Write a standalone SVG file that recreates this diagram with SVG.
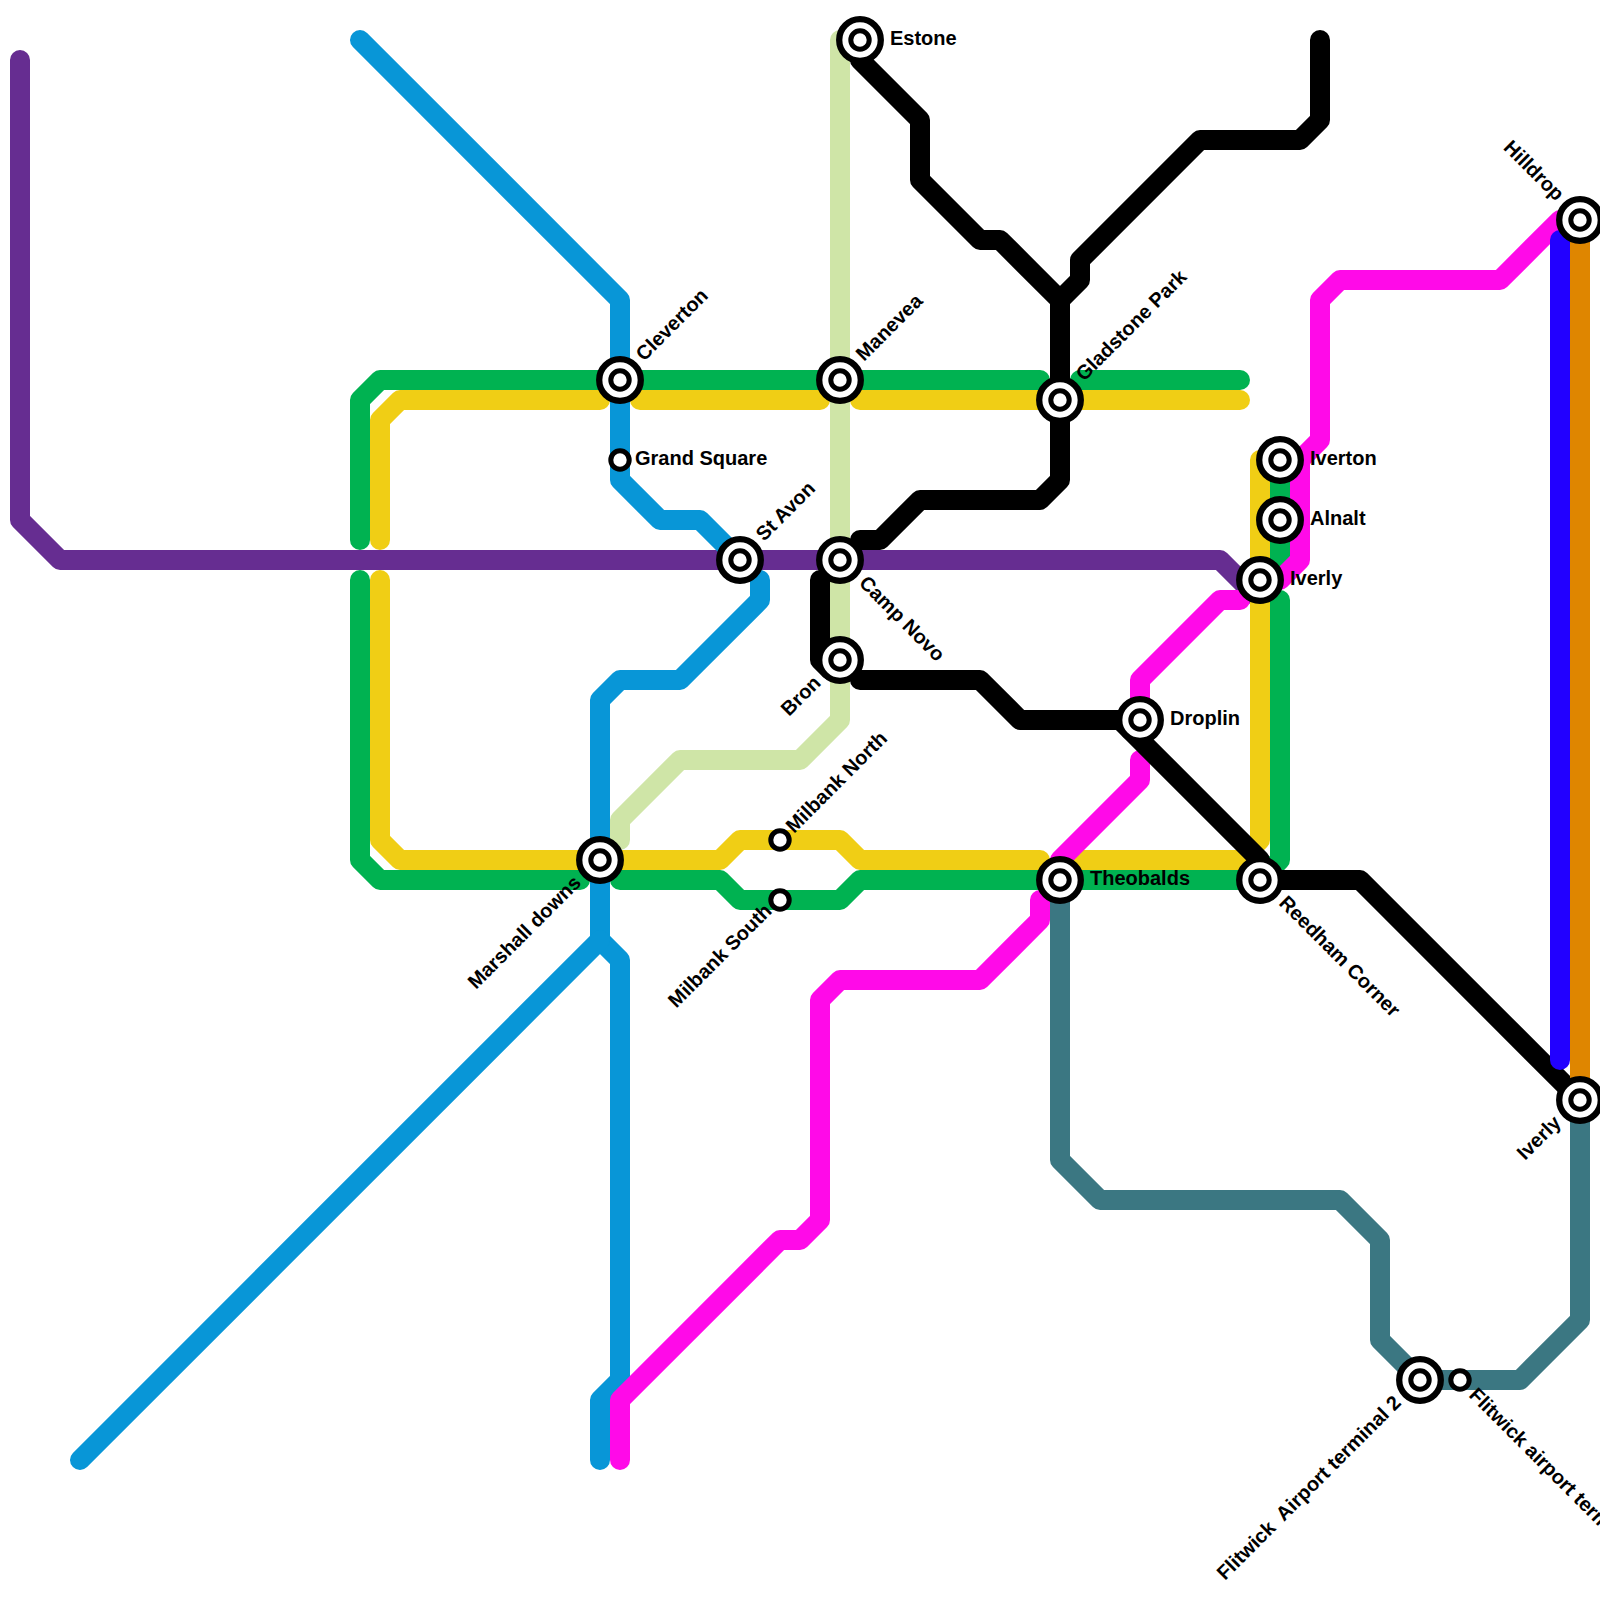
<svg xmlns="http://www.w3.org/2000/svg" width="1600" height="1600" viewBox="0 0 1600 1600">
<style>
.l{fill:none;stroke-width:20;stroke-linecap:round;stroke-linejoin:round}
.g{stroke:#00b251}.y{stroke:#f0ce15}.b{stroke:#0896d7}.p{stroke:#662d91}.c{stroke:#cfe5a7}.m{stroke:#ff0ae8}.t{stroke:#3b7782}.i{stroke:#2200ff}.o{stroke:#df8600}.k{stroke:#000}
.r{fill:#fff;stroke:#000;stroke-width:6.3}
.s{fill:#fff;stroke:#000;stroke-width:5}
text{font-family:"Liberation Sans",Arial,sans-serif;font-weight:700;font-size:20px;fill:#000;white-space:pre}
.e{text-anchor:end}
</style>
<rect width="1600" height="1600" fill="#fff"/>
<g id="connectors">
<path class="l c" d="M840 40V720L800 760H680L620 820V840"/>
<path class="l t" d="M1060 880V1160L1100 1200H1340L1380 1240V1340L1420 1380H1520L1580 1320V1100"/>
<path class="l p" d="M20 60V520L60 560H1220L1260 600"/>
<path class="l g" d="M360 540V400L380 380H1040"/>
<path class="l g" d="M1080 380H1240"/>
<path class="l g" d="M360 580V860L380 880H580"/>
<path class="l g" d="M620 880H720L740 900H840L860 880H1260L1280 860V600"/>
<path class="l g" d="M1280 460V560"/>
<path class="l y" d="M380 540V420L400 400H600"/>
<path class="l y" d="M640 400H820"/>
<path class="l y" d="M860 400H1240"/>
<path class="l y" d="M380 580V840L400 860H720L740 840H840L860 860H1040"/>
<path class="l y" d="M1080 860H1240L1260 840V460"/>
<path class="l b" d="M360 40L620 300V480L660 520H700L740 560"/>
<path class="l b" d="M760 580V600L680 680H620L600 700V940L620 960V1380L600 1400V1460"/>
<path class="l b" d="M80 1460L600 940"/>
<path class="l m" d="M1560 220L1500 280H1340L1320 300V440L1300 460V560L1280 580"/>
<path class="l m" d="M1240 600H1220L1140 680V720"/>
<path class="l m" d="M1140 760V780L1060 860"/>
<path class="l m" d="M1040 900V920L980 980H840L820 1000V1220L800 1240H780L620 1400V1460"/>
<path class="l k" d="M860 60L920 120V180L980 240H1000L1060 300V480L1040 500H920L880 540H860"/>
<path class="l k" d="M1320 40V120L1300 140H1200L1080 260V280L1060 300"/>
<path class="l k" d="M820 580V660L830 670"/>
<path class="l k" d="M860 680H980L1020 720H1120L1260 860V880H1360L1580 1100"/>
<path class="l o" d="M1580 220V1100"/>
<path class="l i" d="M1560 240V1060"/>
</g>
<g id="n-estone"><circle class="r" cx="860" cy="40" r="20.8"/><circle class="s" cx="860" cy="40" r="9.2"/><text x="890" y="45">Estone</text></g>
<g id="n-cleverton"><circle class="r" cx="620" cy="380" r="20.8"/><circle class="s" cx="620" cy="380" r="9.2"/><text transform="translate(644 362) rotate(-45)">Cleverton</text></g>
<g id="n-manevea"><circle class="r" cx="840" cy="380" r="20.8"/><circle class="s" cx="840" cy="380" r="9.2"/><text transform="translate(864 362) rotate(-45)">Manevea</text></g>
<g id="n-gladstone"><circle class="r" cx="1060" cy="400" r="20.8"/><circle class="s" cx="1060" cy="400" r="9.2"/><text transform="translate(1084 382) rotate(-45)">Gladstone Park</text></g>
<g id="n-grand-square"><circle class="s" cx="620" cy="460" r="9.2"/><text x="635" y="465">Grand Square</text></g>
<g id="n-st-avon"><circle class="r" cx="740" cy="560" r="20.8"/><circle class="s" cx="740" cy="560" r="9.2"/><text transform="translate(764 542) rotate(-45)">St Avon</text></g>
<g id="n-camp-novo"><circle class="r" cx="840" cy="560" r="20.8"/><circle class="s" cx="840" cy="560" r="9.2"/><text transform="translate(858 584) rotate(45)">Camp Novo</text></g>
<g id="n-bron"><circle class="r" cx="840" cy="660" r="20.8"/><circle class="s" cx="840" cy="660" r="9.2"/><text class="e" transform="translate(822 684) rotate(-45)">Bron</text></g>
<g id="n-iverton"><circle class="r" cx="1280" cy="460" r="20.8"/><circle class="s" cx="1280" cy="460" r="9.2"/><text x="1310" y="465">Iverton</text></g>
<g id="n-alnalt"><circle class="r" cx="1280" cy="520" r="20.8"/><circle class="s" cx="1280" cy="520" r="9.2"/><text x="1310" y="525">Alnalt</text></g>
<g id="n-iverly"><circle class="r" cx="1260" cy="580" r="20.8"/><circle class="s" cx="1260" cy="580" r="9.2"/><text x="1290" y="585">Iverly</text></g>
<g id="n-droplin"><circle class="r" cx="1140" cy="720" r="20.8"/><circle class="s" cx="1140" cy="720" r="9.2"/><text x="1170" y="725">Droplin</text></g>
<g id="n-milbank-north"><circle class="s" cx="780" cy="840" r="9.2"/><text transform="translate(794 834) rotate(-45)">Milbank North</text></g>
<g id="n-milbank-south"><circle class="s" cx="780" cy="900" r="9.2"/><text class="e" transform="translate(773 912) rotate(-45)">Milbank South</text></g>
<g id="n-marshall-downs"><circle class="r" cx="600" cy="860" r="20.8"/><circle class="s" cx="600" cy="860" r="9.2"/><text class="e" transform="translate(582 884) rotate(-45)">Marshall downs</text></g>
<g id="n-theobalds"><circle class="r" cx="1060" cy="880" r="20.8"/><circle class="s" cx="1060" cy="880" r="9.2"/><text x="1090" y="885">Theobalds</text></g>
<g id="n-reedham-corner"><circle class="r" cx="1260" cy="880" r="20.8"/><circle class="s" cx="1260" cy="880" r="9.2"/><text transform="translate(1278 904) rotate(45)">Reedham Corner</text></g>
<g id="n-hilldrop"><circle class="r" cx="1580" cy="220" r="20.8"/><circle class="s" cx="1580" cy="220" r="9.2"/><text class="e" transform="translate(1556 202) rotate(45)">Hilldrop</text></g>
<g id="n-iverly-2"><circle class="r" cx="1580" cy="1100" r="20.8"/><circle class="s" cx="1580" cy="1100" r="9.2"/><text class="e" transform="translate(1562 1124) rotate(-45)">Iverly</text></g>
<g id="n-flitwick-2"><circle class="r" cx="1420" cy="1380" r="20.8"/><circle class="s" cx="1420" cy="1380" r="9.2"/><text class="e" transform="translate(1402 1404) rotate(-45)">Flitwick  Airport terminal 2</text></g>
<g id="n-flitwick-1"><circle class="s" cx="1460" cy="1380" r="9.2"/><text transform="translate(1468 1396) rotate(45)">Flitwick airport terminal</text></g>
</svg>
